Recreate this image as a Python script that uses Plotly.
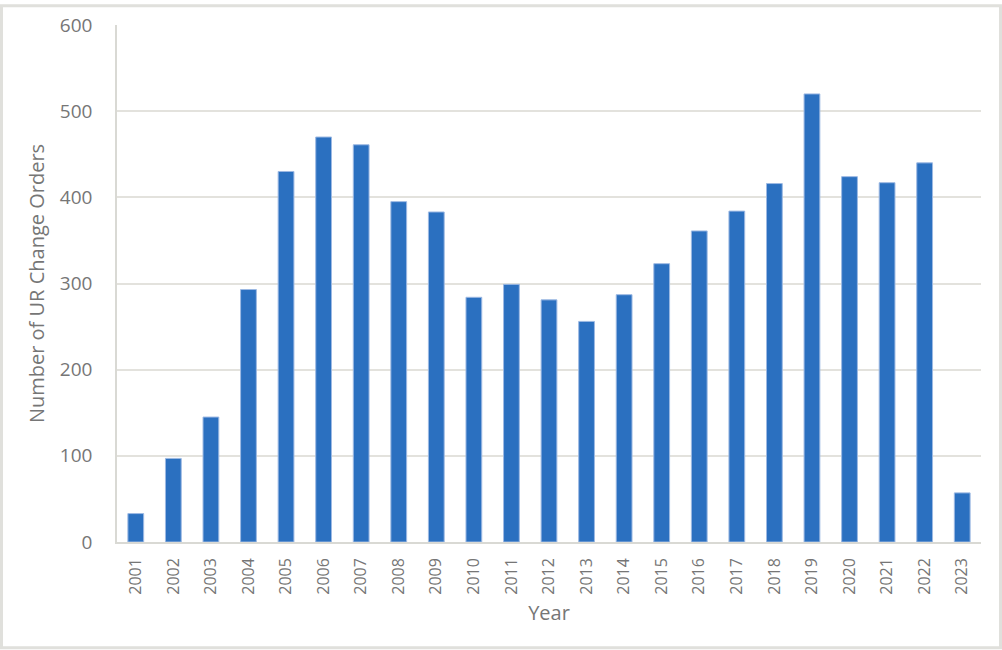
import plotly.graph_objects as go

years = [str(y) for y in range(2001, 2024)]
orders = [33, 97, 145, 293, 430, 470, 461, 395, 383, 284, 299, 281, 256, 287,
          323, 361, 384, 416, 520, 424, 417, 440, 57]

W, H = 1002, 650
L, R, T, B = 117, 21, 21, 108
pw, ph = W - L - R, H - T - B

fig = go.Figure(go.Bar(
    x=years, y=orders,
    marker=dict(color="#2B70C0", line=dict(color="#9DB9E3", width=1)),
    width=0.42,
))

grey = "#767676"
fig.update_layout(
    width=W, height=H,
    margin=dict(l=L, r=R, t=T, b=B),
    paper_bgcolor="white", plot_bgcolor="white",
    font=dict(family="Open Sans, Noto Sans, sans-serif", color=grey, size=16),
    showlegend=False,
    xaxis=dict(
        title=dict(text="Year", font=dict(size=20, color=grey), standoff=12),
        tickangle=-90, showgrid=False, showline=True, linecolor="#D9D9D4",
        linewidth=1.5, ticks="", tickfont=dict(size=16, color=grey),
        ticklabelstandoff=8,
    ),
    yaxis=dict(
        title=dict(text="Number of UR Change Orders", font=dict(size=20, color=grey), standoff=10),
        range=[0, 600], dtick=100, showgrid=True, gridcolor="#E3E2DD", gridwidth=1.5,
        showline=True, linecolor="#D9D9D4", linewidth=1.5, zeroline=False,
        ticks="", tickfont=dict(size=19, color=grey), ticklabelstandoff=19,
    ),
    shapes=[dict(
        type="rect", xref="paper", yref="paper",
        x0=(1.5 - L) / pw, x1=(W - 1.5 - L) / pw,
        y0=-(H - 1.5 - T - ph) / ph, y1=(ph + T - 1.5) / ph,
        line=dict(color="#E0E0DC", width=3), fillcolor="rgba(0,0,0,0)",
        layer="below",
    )],
)

fig.write_html("out.html")
